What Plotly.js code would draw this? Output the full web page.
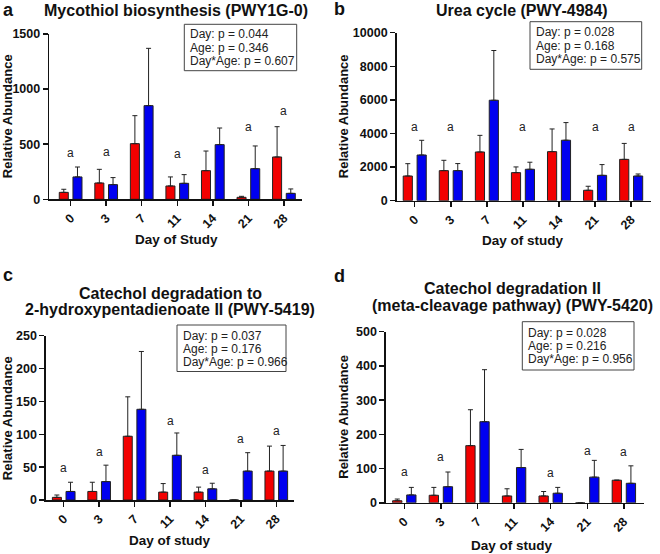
<!DOCTYPE html>
<html><head><meta charset="utf-8">
<script src="https://cdn.plot.ly/plotly-3.0.1.min.js"></script>
<style>html,body{margin:0;padding:0;background:#fff}</style>
</head><body>
<div id="chart" style="width:660px;height:554px"></div>
<script>
// ---- data ----
const days = ['0','3','7','11','14','21','28'];

// a: Mycothiol biosynthesis (PWY1G-0)
const mycoRed     = [63, 148, 505, 121, 260, 18, 384];
const mycoRedErr  = [28, 124, 254, 82, 178, 9, 275];
const mycoBlue    = [203, 133, 850, 145, 496, 278, 54];
const mycoBlueErr = [90, 64, 520, 79, 151, 206, 40];
const mycoSigY    = [423, 429, null, 408, null, 659, 801];
const mycoTicks   = [0, 500, 1000, 1500];
const mycoStats   = ['Day: p = 0.044', 'Age: p = 0.346', 'Day*Age: p = 0.607'];

// b: Urea cycle (PWY-4984)
const ureaRed     = [1470, 1790, 2900, 1670, 2920, 620, 2460];
const ureaRedErr  = [735, 615, 990, 340, 1350, 240, 950];
const ureaBlue    = [2720, 1790, 5980, 1870, 3600, 1510, 1470];
const ureaBlueErr = [875, 420, 2960, 420, 1050, 640, 120];
const ureaSigY    = [4380, 4380, null, 4380, null, 4380, 4380];
const ureaTicks   = [0, 2000, 4000, 6000, 8000, 10000];
const ureaStats   = ['Day: p = 0.028', 'Age: p = 0.168', 'Day*Age: p = 0.575'];

// c: Catechol degradation to 2-hydroxypentadienoate II (PWY-5419)
const c5419Red     = [4, 13, 97, 12, 12, 0, 44];
const c5419RedErr  = [3.6, 14, 60, 13, 7.6, NaN, 38];
const c5419Blue    = [13, 28, 138, 68, 17, 44, 44];
const c5419BlueErr = [14, 25, 88, 34, 8.5, 28, 39];
const c5419SigY    = [48, 73.5, null, 120.7, 45.6, 92.3, 104.5];
const c5419Ticks   = [0, 50, 100, 150, 200, 250];
const c5419Stats   = ['Day: p = 0.037', 'Age: p = 0.176', 'Day*Age: p = 0.966'];

// d: Catechol degradation II (meta-cleavage pathway) (PWY-5420)
const c5420Red     = [6, 22, 167, 20, 20, 0, 66];
const c5420RedErr  = [5, 23, 105, 21, 13, NaN, NaN];
const c5420Blue    = [23, 47, 237, 103, 28, 75, 57];
const c5420BlueErr = [22, 43, 152, 53, 17, 49, 51];
const c5420SigY    = [90, 133, null, null, 88, 152, 148];
const c5420Ticks   = [0, 100, 200, 300, 400, 500];
const c5420Stats   = ['Day: p = 0.028', 'Age: p = 0.216', 'Day*Age: p = 0.956'];

// ---- layout helpers ----
const W = 660, H = 554;
const FONT = 'Liberation Sans, Arial, Helvetica, sans-serif';
const px = x => x / W;
const py = y => 1 - y / H;
const RED = '#f20000', BLUE = '#0000f0';
const bold = v => '<b>' + v + '</b>';

const panels = [
  {letter:'a', red:mycoRed, redErr:mycoRedErr, blue:mycoBlue, blueErr:mycoBlueErr, sig:mycoSigY, stats:mycoStats, ticks:mycoTicks,
   title:['Mycothiol biosynthesis (PWY1G-0)'], titleX:176, titleY:[10], xTitle:'Day of Study',
   xdom:[49.3,301.7], ydom:[199.3,34], yrange:[0,1500], xrange:[-0.6,6.5],
   letterPos:[1,10], yTitleX:7.5, xTitlePos:[176,239],
   box:[184.3,24.3,296.7,70.7], statX:187.7, statY:[34.3,47.7,61]},
  {letter:'b', red:ureaRed, redErr:ureaRedErr, blue:ureaBlue, blueErr:ureaBlueErr, sig:ureaSigY, stats:ureaStats, ticks:ureaTicks,
   title:['Urea cycle (PWY-4984)'], titleX:522, titleY:[10], xTitle:'Day of study',
   xdom:[396.7,651], ydom:[200.7,32.7], yrange:[0,10000], xrange:[-0.5,6.55],
   letterPos:[332,9], yTitleX:343.5, xTitlePos:[523,240.7],
   box:[530,21.7,641.7,69.3], statX:534, statY:[32.5,46,59.3]},
  {letter:'c', red:c5419Red, redErr:c5419RedErr, blue:c5419Blue, blueErr:c5419BlueErr, sig:c5419SigY, stats:c5419Stats, ticks:c5419Ticks,
   title:['Catechol degradation to','2-hydroxypentadienoate II (PWY-5419)'], titleX:170, titleY:[293.3,309.5], xTitle:'Day of study',
   xdom:[46,294], ydom:[500,335.7], yrange:[0,250], xrange:[-0.5,6.5],
   letterPos:[1,275], yTitleX:8.3, xTitlePos:[170,540],
   box:[177,325,286,371.5], statX:181, statY:[336,349.3,362.3]},
  {letter:'d', red:c5420Red, redErr:c5420RedErr, blue:c5420Blue, blueErr:c5420BlueErr, sig:c5420SigY, stats:c5420Stats, ticks:c5420Ticks,
   title:['Catechol degradation II','(meta-cleavage pathway) (PWY-5420)'], titleX:512, titleY:[288.3,305.5], xTitle:'Day of study',
   xdom:[386,644], ydom:[502.8,331.7], yrange:[0,500], xrange:[-0.5,6.55],
   letterPos:[332,276], yTitleX:343.5, xTitlePos:[512,545],
   box:[522.3,321.7,634,370], statX:525.7, statY:[332.7,346,359.3]}
];

const traces = [];
const annotations = [];
const shapes = [];
const layout = {
  width: W, height: H,
  margin: {l:0, r:0, t:0, b:0, pad:0},
  paper_bgcolor: '#fff', plot_bgcolor: 'rgba(0,0,0,0)',
  showlegend: false,
  barmode: 'group', bargap: 0.23, bargroupgap: 0.34,
  font: {family: FONT, color: '#111'}
};

panels.forEach((p, i) => {
  const n = i === 0 ? '' : String(i + 1);
  const xa = 'x' + n, ya = 'y' + n;
  const errStyle = {type:'data', symmetric:false, color:'#222', thickness:1, width:2.5};
  traces.push({
    type:'bar', x:days, y:p.red, xaxis:xa, yaxis:ya, name:'red',
    marker:{color:RED, line:{color:'#222', width:1}},
    error_y:Object.assign({array:p.redErr, arrayminus:p.red.map(() => 0)}, errStyle)
  });
  traces.push({
    type:'bar', x:days, y:p.blue, xaxis:xa, yaxis:ya, name:'blue',
    marker:{color:BLUE, line:{color:'#222', width:1}},
    error_y:Object.assign({array:p.blueErr, arrayminus:p.blue.map(() => 0)}, errStyle)
  });
  layout['xaxis' + n] = {
    domain:[px(p.xdom[0]), px(p.xdom[1])], anchor:ya, type:'category',
    range:p.xrange, showgrid:false, zeroline:false,
    showline:true, linecolor:'#111', linewidth:1.6,
    ticks:'outside', ticklen:5, tickwidth:1.5, tickcolor:'#111',
    tickmode:'array', tickvals:days, ticktext:days.map(bold),
    tickangle:-45, tickfont:{family:FONT, size:12.5, color:'#111'}
  };
  layout['yaxis' + n] = {
    domain:[py(p.ydom[0]), py(p.ydom[1])], anchor:xa,
    range:p.yrange, showgrid:false, zeroline:false,
    showline:true, linecolor:'#111', linewidth:1.6,
    ticks:'outside', ticklen:5, tickwidth:1.5, tickcolor:'#111',
    tickmode:'array', tickvals:p.ticks, ticktext:p.ticks.map(bold),
    tickfont:{family:FONT, size:12.5, color:'#111'}
  };
  // panel letter
  annotations.push({xref:'paper', yref:'paper', x:px(p.letterPos[0]), y:py(p.letterPos[1]),
    xanchor:'left', yanchor:'middle', showarrow:false, text:bold(p.letter),
    font:{family:FONT, size:18, color:'#111'}});
  // title lines
  p.title.forEach((t, k) => annotations.push({xref:'paper', yref:'paper', x:px(p.titleX), y:py(p.titleY[k]),
    xanchor:'center', yanchor:'middle', showarrow:false, text:bold(t),
    font:{family:FONT, size:16, color:'#111'}}));
  // axis titles
  annotations.push({xref:'paper', yref:'paper', x:px(p.yTitleX), y:py((p.ydom[0] + p.ydom[1]) / 2),
    xanchor:'center', yanchor:'middle', showarrow:false, textangle:-90, text:bold('Relative Abundance'),
    font:{family:FONT, size:13, color:'#111'}});
  annotations.push({xref:'paper', yref:'paper', x:px(p.xTitlePos[0]), y:py(p.xTitlePos[1]),
    xanchor:'center', yanchor:'middle', showarrow:false, text:bold(p.xTitle),
    font:{family:FONT, size:13.5, color:'#111'}});
  // significance letters (x given as category index)
  p.sig.forEach((v, k) => {
    if (v === null) return;
    annotations.push({xref:xa, yref:ya, x:k, y:v, xanchor:'center', yanchor:'middle',
      showarrow:false, text:'a', font:{family:FONT, size:12, color:'#222'}});
  });
  // stats box
  shapes.push({type:'rect', xref:'paper', yref:'paper',
    x0:px(p.box[0]), y0:py(p.box[1]), x1:px(p.box[2]), y1:py(p.box[3]),
    line:{color:'#444', width:1}, fillcolor:'rgba(0,0,0,0)'});
  p.stats.forEach((s, k) => annotations.push({xref:'paper', yref:'paper', x:px(p.statX), y:py(p.statY[k]),
    xanchor:'left', yanchor:'middle', showarrow:false, text:s,
    font:{family:FONT, size:12, color:'#222'}}));
});

layout.annotations = annotations;
layout.shapes = shapes;

Plotly.newPlot('chart', traces, layout, {staticPlot:true, displayModeBar:false});
</script>
</body></html>
